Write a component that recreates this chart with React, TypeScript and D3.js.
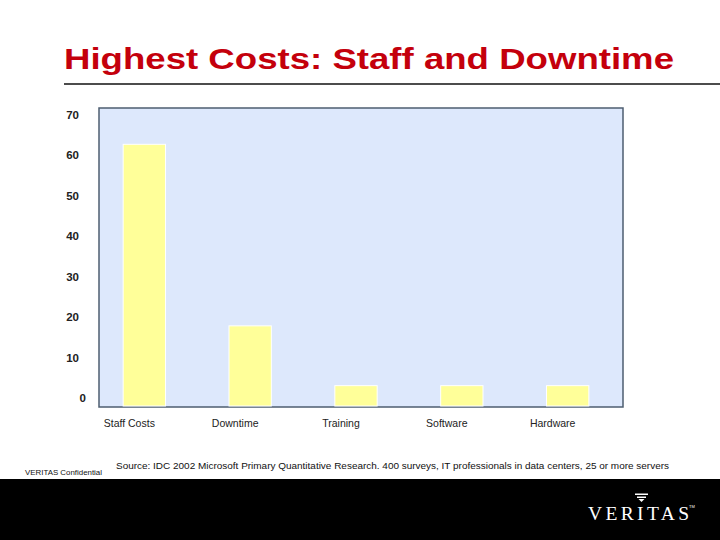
import React from "react";
import * as d3 from "d3";

const categories = ["Staff Costs", "Downtime", "Training", "Software", "Hardware"];
const values = [61.5, 19, 5, 5, 5];
const tickValues = [0, 10, 20, 30, 40, 50, 60, 70];
const titleText = "Highest Costs: Staff and Downtime";
const sourceText =
  "Source: IDC 2002 Microsoft Primary Quantitative Research. 400 surveys, IT professionals in data centers, 25 or more servers";
const confidentialText = "VERITAS Confidential";
const logoText = "VERITAS";

const W = 720;
const H = 540;
const plot = { left: 99, right: 623, top: 108, bottom: 407 };

export default function App() {
  const x = d3
    .scaleBand<string>()
    .domain(categories)
    .range([91.4, 620.6])
    .paddingInner(0.6)
    .paddingOuter(0.3);
  const y = d3.scaleLinear().domain([0, 70]).range([plot.bottom, plot.top]);
  const yLabel = d3.scaleLinear().domain([0, 70]).range([398, 115]);
  const sans = "'Liberation Sans', Arial, sans-serif";

  return (
    <div style={{ position: "fixed", left: 0, top: 0, width: W, height: H, overflow: "hidden", background: "#fff" }}>
      <svg width={W} height={H} viewBox={`0 0 ${W} ${H}`} style={{ display: "block" }}>
        <rect x={0} y={0} width={W} height={H} fill="#ffffff" />
        {/* Title */}
        <text
          x={64}
          y={69}
          fontFamily={sans}
          fontWeight="bold"
          fontSize={30}
          fill="#c4000c"
          textLength={610}
          lengthAdjust="spacingAndGlyphs"
        >
          {titleText}
        </text>
        <line x1={64} x2={720} y1={84} y2={84} stroke="#111" strokeWidth={1.5} />

        {/* Plot area */}
        <rect
          x={plot.left}
          y={plot.top}
          width={plot.right - plot.left}
          height={plot.bottom - plot.top}
          fill="#dde8fc"
          stroke="#4d5e70"
          strokeWidth={1.5}
        />
        {categories.map((c, i) => (
          <rect
            key={c}
            x={x(c)}
            y={y(values[i])}
            width={x.bandwidth()}
            height={plot.bottom - y(values[i]) - 1}
            fill="#ffff99"
            stroke="#ffffff"
            strokeWidth={1}
          />
        ))}

        {/* Y tick labels */}
        {tickValues.map((t) => (
          <text
            key={t}
            x={t === 0 ? 86 : 79}
            y={yLabel(t)}
            dy="0.35em"
            textAnchor="end"
            fontFamily={sans}
            fontWeight="bold"
            fontSize={11.5}
            fill="#222"
          >
            {t}
          </text>
        ))}

        {/* Category labels */}
        {categories.map((c) => (
          <text
            key={c}
            x={(x(c) as number) + x.bandwidth() / 2 - 15}
            y={423}
            dy="0.35em"
            textAnchor="middle"
            fontFamily={sans}
            fontSize={10.5}
            fill="#222"
          >
            {c}
          </text>
        ))}

        {/* Footer texts */}
        <text
          x={116}
          y={466}
          dy="0.35em"
          fontFamily={sans}
          fontSize={9}
          fill="#111"
          textLength={553}
          lengthAdjust="spacingAndGlyphs"
        >
          {sourceText}
        </text>
        <text
          x={25}
          y={472}
          dy="0.35em"
          fontFamily={sans}
          fontSize={8}
          fill="#111"
          textLength={77}
          lengthAdjust="spacingAndGlyphs"
        >
          {confidentialText}
        </text>

        {/* Black band */}
        <rect x={0} y={479} width={W} height={H - 479} fill="#000" />
        <text
          x={588}
          y={519.5}
          fontFamily="'Liberation Serif', 'DejaVu Serif', serif"
          fontSize={19.5}
          fill="#fff"
          textLength={101}
          lengthAdjust="spacing"
        >
          {logoText}
        </text>
        <text x={689} y={508} fontFamily={sans} fontSize={4} fill="#fff">
          TM
        </text>
        {/* logo mark above I */}
        <rect x={635} y={493.5} width={13} height={1.5} fill="#fff" />
        <rect x={637} y={496.5} width={9} height={1.5} fill="#fff" />
        <path d="M638.5,499 L644.5,499 L641.5,502 Z" fill="#fff" />
      </svg>
    </div>
  );
}
